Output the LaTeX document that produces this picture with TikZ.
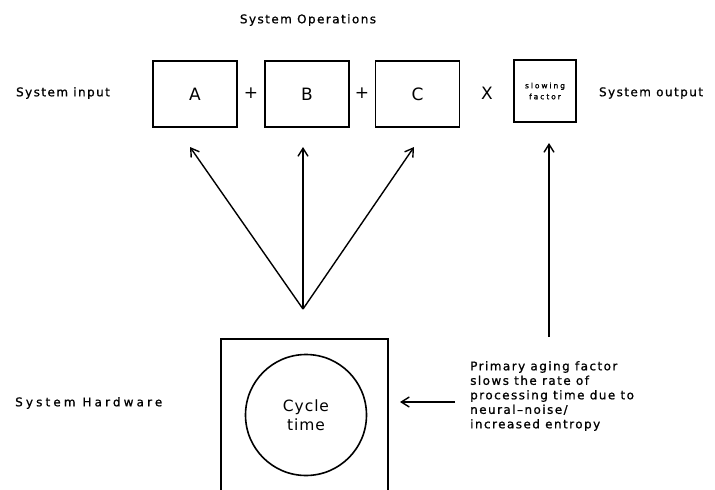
\documentclass[tikz,border=0pt]{standalone}
\usepackage{fontspec}
\setmainfont{DejaVu Sans}
\newfontfamily\lblfont[LetterSpace=12,FakeBold=1]{DejaVu Sans}
\newfontfamily\widelblfont[LetterSpace=26,FakeBold=1]{DejaVu Sans}
\newfontfamily\bigfont[LetterSpace=6]{DejaVu Sans}
\usetikzlibrary{arrows.meta}
\begin{document}
\begin{tikzpicture}[x=1pt,y=-1pt,
  lbl/.style={font=\lblfont\fontsize{12}{14}\selectfont, inner sep=0pt},
  opbox/.style={draw, line width=1.6pt, minimum width=84pt, minimum height=66pt, inner sep=0pt, font=\bigfont\fontsize{17}{20}\selectfont},
  opsym/.style={font=\bigfont\fontsize{17}{20}\selectfont, inner sep=0pt},
  arr/.style={-{Straight Barb[length=8pt,width=10pt,line width=1.4pt]}, line width=1.4pt}]
\clip (0,0) rectangle (715,490);
\node[lbl] (ops) at (308,20) {System Operations};
\node[lbl] (in) at (63,93) {System input};
\node[opbox] (A) at (195,94) {A};
\node[opsym] (p1) at (251,93) {+};
\node[opbox] (B) at (307,94) {B};
\node[opsym] (p2) at (362,93) {+};
\node[opbox] (C) at (417.5,94) {C};
\node[opsym] (x) at (487,93) {X};
\node[opbox, minimum width=62pt, minimum height=62pt, align=center, font=\widelblfont\fontsize{7.5}{11}\selectfont] (S) at (545,91) {slowing\\factor};
\node[lbl] (out) at (651,93) {System output};
\node[draw, line width=1.6pt, minimum width=167pt, minimum height=200pt, anchor=north] (hw) at (304.5,338) {};
\node[draw, line width=1.6pt, circle, minimum size=121pt, align=center, font=\bigfont\fontsize{15.5}{19}\selectfont] (cyc) at (306,415) {Cycle\\time};
\node[lbl, anchor=west, font=\widelblfont\fontsize{12}{14}\selectfont] (hwl) at (15,403) {System Hardware};
\node[lbl, anchor=north west, align=left, font=\lblfont\fontsize{12}{14.5}\selectfont] (note) at (470,361) {Primary aging factor\\slows the rate of\\processing time due to\\neural–noise/\\increased entropy};
\coordinate (apex) at (303,309);
\coordinate (ta) at (190,147);
\coordinate (tb) at (303,147);
\coordinate (tc) at (414,147);
\coordinate (sb) at (549,337);
\coordinate (st) at (549,143);
\coordinate (nb) at (455,402);
\coordinate (ne) at (400,402);
\draw[arr] (apex) -- (ta);
\draw[arr] (apex) -- (tb);
\draw[arr] (apex) -- (tc);
\draw[arr] (sb) -- (st);
\draw[arr] (nb) -- (ne);
\end{tikzpicture}
\end{document}
